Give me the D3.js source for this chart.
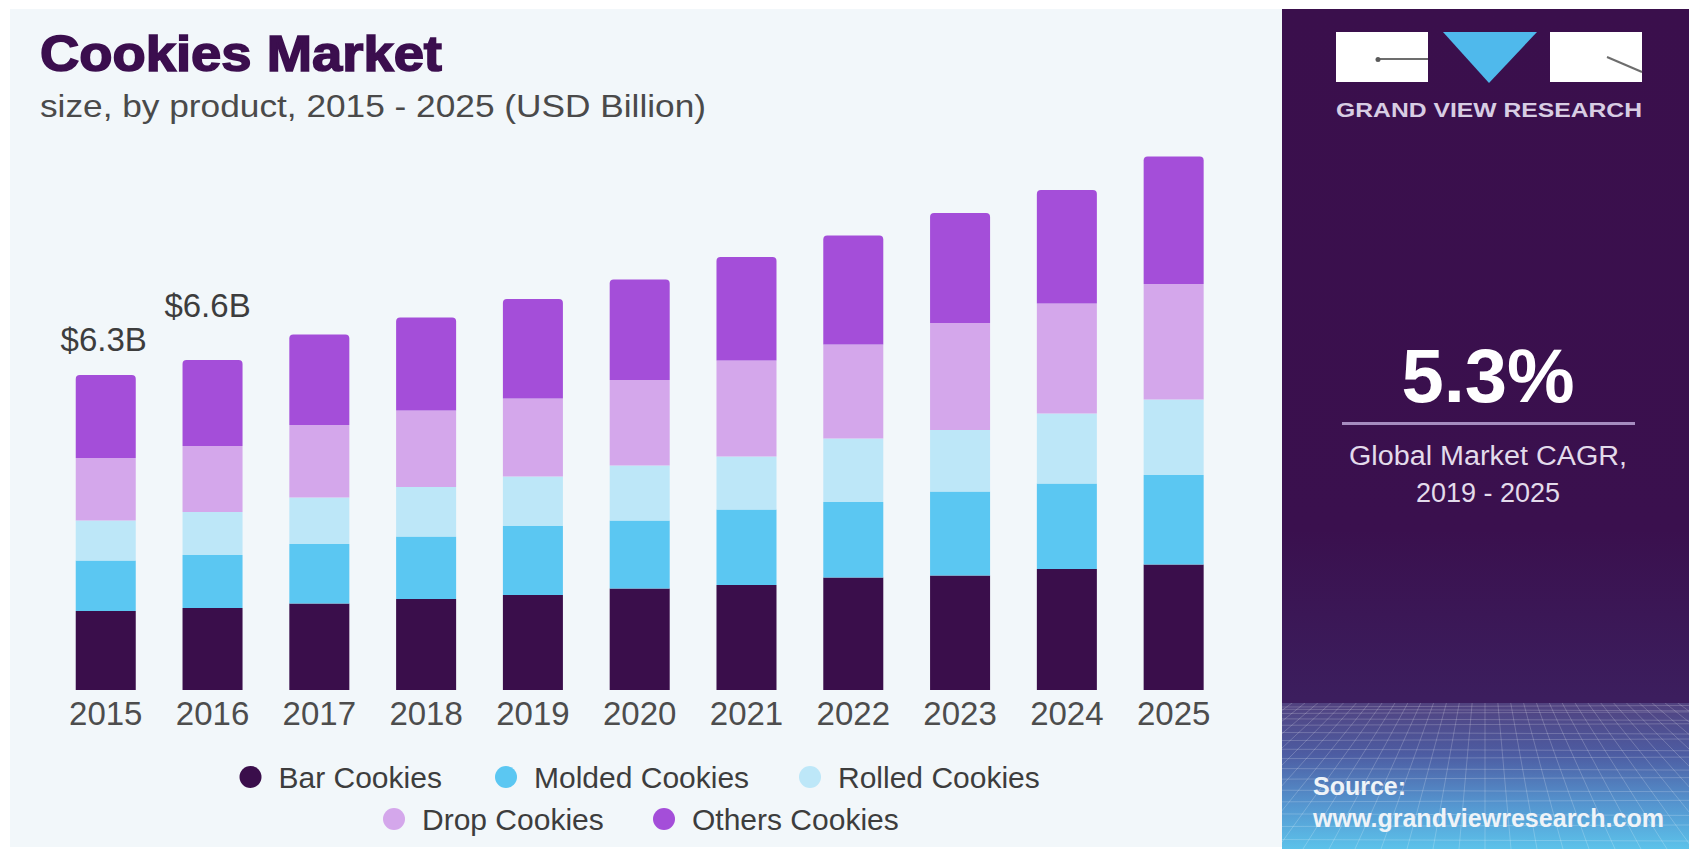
<!DOCTYPE html>
<html>
<head>
<meta charset="utf-8">
<script src="https://cdn.jsdelivr.net/npm/d3@7"></script>
<style>
  html, body { margin: 0; padding: 0; background: #ffffff; }
  svg { display: block; }
  text { font-family: "Liberation Sans", Arial, Helvetica, sans-serif; }
</style>
</head>
<body>
<svg id="chart" width="1693" height="849"></svg>
<script>
// ---- data (USD Billion) ----
const years = ["2015", "2016", "2017", "2018", "2019", "2020", "2021", "2022", "2023", "2024", "2025"];
const barCookies    = [1.58, 1.64, 1.73, 1.82, 1.90, 2.03, 2.10, 2.25, 2.29, 2.42, 2.51];
const moldedCookies = [1.01, 1.06, 1.19, 1.25, 1.38, 1.36, 1.51, 1.51, 1.68, 1.71, 1.79];
const rolledCookies = [0.80, 0.86, 0.93, 0.99, 0.99, 1.10, 1.06, 1.27, 1.23, 1.40, 1.51];
const dropCookies   = [1.25, 1.32, 1.45, 1.53, 1.56, 1.71, 1.92, 1.88, 2.14, 2.20, 2.31];
const othersCookies = [1.66, 1.72, 1.81, 1.86, 1.99, 2.01, 2.07, 2.18, 2.20, 2.27, 2.55];
const seriesNames   = ["Bar Cookies", "Molded Cookies", "Rolled Cookies", "Drop Cookies", "Others Cookies"];
const seriesColors  = ["#3a0e4b", "#5bc7f2", "#bde7f8", "#d4a7eb", "#a44ed9"];
const totalLabels   = [{ year: "2015", text: "$6.3B", value: 6.3 }, { year: "2016", text: "$6.6B", value: 6.6 }];
const cagrText      = "5.3%";

const svg = d3.select("#chart");
const W = 1693, H = 849;

// ---- backgrounds ----
svg.append("rect").attr("x", 0).attr("y", 0).attr("width", W).attr("height", H).attr("fill", "#ffffff");
svg.append("rect").attr("x", 10).attr("y", 9).attr("width", 1272).attr("height", 838).attr("fill", "#f2f7fa");

const defs = svg.append("defs");
const panelGrad = defs.append("linearGradient").attr("id", "panelGrad")
  .attr("x1", 0).attr("y1", 0).attr("x2", 0).attr("y2", 1);
panelGrad.append("stop").attr("offset", "0%").attr("stop-color", "#3a0f4c");
panelGrad.append("stop").attr("offset", "62%").attr("stop-color", "#3a104e");
panelGrad.append("stop").attr("offset", "82%").attr("stop-color", "#3c1e5e");
panelGrad.append("stop").attr("offset", "100%").attr("stop-color", "#3c1e5e");

const gridGrad = defs.append("linearGradient").attr("id", "gridGrad")
  .attr("x1", 0).attr("y1", 0).attr("x2", 0).attr("y2", 1);
gridGrad.append("stop").attr("offset", "0%").attr("stop-color", "#51427f");
gridGrad.append("stop").attr("offset", "35%").attr("stop-color", "#4d5ca2");
gridGrad.append("stop").attr("offset", "70%").attr("stop-color", "#5596d0");
gridGrad.append("stop").attr("offset", "100%").attr("stop-color", "#5cc2ea");

const panelX = 1282, panelR = 1689, panelTop = 9, gridTop = 703;
svg.append("rect").attr("x", panelX).attr("y", panelTop).attr("width", panelR - panelX)
  .attr("height", H - panelTop).attr("fill", "url(#panelGrad)");
svg.append("rect").attr("x", panelX).attr("y", gridTop).attr("width", panelR - panelX)
  .attr("height", H - gridTop).attr("fill", "url(#gridGrad)");

// perspective grid in the panel's lower part
defs.append("clipPath").attr("id", "gridClip").append("rect")
  .attr("x", panelX).attr("y", gridTop).attr("width", panelR - panelX).attr("height", H - gridTop);
const grid = svg.append("g").attr("clip-path", "url(#gridClip)")
  .attr("stroke", "#ffffff").attr("stroke-opacity", 0.2).attr("stroke-width", 1).attr("fill", "none");
const nH = 16;
for (let k = 0; k <= nH; k++) {
  const yy = gridTop + 4 + (H - gridTop) * Math.pow(k / nH, 1.5);
  grid.append("line").attr("x1", panelX).attr("x2", panelR).attr("y1", yy).attr("y2", yy + (k % 2 ? 1.5 : -1.5));
}
const vpX = 1485, vpY = 560;
for (let k = -40; k <= 40; k++) {
  const bx = vpX + k * 26;
  grid.append("line").attr("x1", vpX + (bx - vpX) * 0.25).attr("y1", vpY + (H - vpY) * 0.25)
    .attr("x2", bx).attr("y2", H);
}

// ---- scales ----
const x = d3.scaleBand().domain(years).range([43.7, 1235.7]).paddingInner(0.438).paddingOuter(0.3);
const y = d3.scaleLinear().domain([0, 10]).range([690, 190]);

// ---- stacked bars ----
const rows = years.map((yr, i) => ({
  year: yr,
  "Bar Cookies": barCookies[i],
  "Molded Cookies": moldedCookies[i],
  "Rolled Cookies": rolledCookies[i],
  "Drop Cookies": dropCookies[i],
  "Others Cookies": othersCookies[i]
}));
const stack = d3.stack().keys(seriesNames)(rows);
const color = d3.scaleOrdinal().domain(seriesNames).range(seriesColors);

// top segment keeps rounded upper corners
function segPath(x0, w, yTop, yBot, r) {
  const p = d3.path();
  p.moveTo(x0, yBot);
  p.lineTo(x0, yTop + r);
  p.arcTo(x0, yTop, x0 + r, yTop, r);
  p.lineTo(x0 + w - r, yTop);
  p.arcTo(x0 + w, yTop, x0 + w, yTop + r, r);
  p.lineTo(x0 + w, yBot);
  p.closePath();
  return p.toString();
}

const layers = svg.append("g").selectAll("g").data(stack).join("g")
  .attr("fill", d => color(d.key));
layers.each(function (layer, li) {
  const isTop = li === stack.length - 1;
  d3.select(this).selectAll("path").data(layer).join("path")
    .attr("d", d => segPath(x(d.data.year), x.bandwidth(), y(d[1]), y(d[0]), isTop ? 4 : 0));
});

// ---- x axis ----
const xAxis = svg.append("g").attr("transform", `translate(0,${y(0)})`)
  .call(d3.axisBottom(x).tickSize(0).tickPadding(11.5));
xAxis.select(".domain").remove();
xAxis.selectAll("text")
  .attr("font-family", "'Liberation Sans', Arial, sans-serif")
  .attr("font-size", 33).attr("fill", "#4d4d4d");

// ---- total labels ----
const labelOffsets = { "2015": { dx: -2, dy: -24 }, "2016": { dx: -5, dy: -43 } };
svg.append("g").selectAll("text").data(totalLabels).join("text")
  .attr("x", d => x(d.year) + x.bandwidth() / 2 + labelOffsets[d.year].dx)
  .attr("y", d => y(d.value) + labelOffsets[d.year].dy)
  .attr("text-anchor", "middle").attr("font-size", 33).attr("fill", "#3d3d3d")
  .text(d => d.text);

// ---- title ----
svg.append("text").attr("x", 40).attr("y", 71)
  .attr("font-size", 50).attr("font-weight", "bold").attr("fill", "#3b0e4e")
  .attr("stroke", "#3b0e4e").attr("stroke-width", 1.6)
  .attr("textLength", 402).attr("lengthAdjust", "spacingAndGlyphs")
  .text("Cookies Market");
svg.append("text").attr("x", 40).attr("y", 117)
  .attr("font-size", 32).attr("fill", "#4a4a4a")
  .attr("textLength", 666).attr("lengthAdjust", "spacingAndGlyphs")
  .text("size, by product, 2015 - 2025 (USD Billion)");

// ---- legend ----
const legendItems = [
  { name: seriesNames[0], cx: 250.5, cy: 777 },
  { name: seriesNames[1], cx: 506, cy: 777 },
  { name: seriesNames[2], cx: 810, cy: 777 },
  { name: seriesNames[3], cx: 394, cy: 819 },
  { name: seriesNames[4], cx: 664, cy: 819 }
];
const lg = svg.append("g").selectAll("g").data(legendItems).join("g");
lg.append("circle").attr("cx", d => d.cx).attr("cy", d => d.cy).attr("r", 11)
  .attr("fill", d => color(d.name));
lg.append("text").attr("x", d => d.cx + 28).attr("y", d => d.cy + 11)
  .attr("font-size", 30).attr("fill", "#3d3d3d").text(d => d.name);

// ---- logo ----
const logo = svg.append("g");
logo.append("rect").attr("x", 1336).attr("y", 32).attr("width", 92).attr("height", 50).attr("fill", "#ffffff");
logo.append("rect").attr("x", 1550).attr("y", 32).attr("width", 92).attr("height", 50).attr("fill", "#ffffff");
logo.append("path").attr("d", "M1443,32 L1537,32 L1489,83 Z").attr("fill", "#4fb9ec");
logo.append("line").attr("x1", 1378).attr("y1", 59).attr("x2", 1428).attr("y2", 59)
  .attr("stroke", "#6d6d6d").attr("stroke-width", 2);
logo.append("circle").attr("cx", 1378).attr("cy", 59.5).attr("r", 2.5).attr("fill", "#5a5a5a");
logo.append("line").attr("x1", 1607).attr("y1", 57).attr("x2", 1642).attr("y2", 72)
  .attr("stroke", "#6d6d6d").attr("stroke-width", 2);
svg.append("text").attr("x", 1336).attr("y", 117)
  .attr("font-size", 21).attr("font-weight", "bold").attr("fill", "#d8cde3")
  .attr("textLength", 306).attr("lengthAdjust", "spacingAndGlyphs")
  .text("GRAND VIEW RESEARCH");

// ---- CAGR block ----
const cx = 1488;
svg.append("text").attr("x", cx).attr("y", 402).attr("text-anchor", "middle")
  .attr("font-size", 76).attr("font-weight", "bold").attr("fill", "#ffffff").text(cagrText);
svg.append("line").attr("x1", 1342).attr("x2", 1635).attr("y1", 423.5).attr("y2", 423.5)
  .attr("stroke", "#a68cc0").attr("stroke-width", 3);
svg.append("text").attr("x", cx).attr("y", 465).attr("text-anchor", "middle")
  .attr("font-size", 27).attr("fill", "#e3dbeb")
  .attr("textLength", 278).attr("lengthAdjust", "spacingAndGlyphs")
  .text("Global Market CAGR,");
svg.append("text").attr("x", cx).attr("y", 502).attr("text-anchor", "middle")
  .attr("font-size", 27).attr("fill", "#e3dbeb").text("2019 - 2025");

// ---- source ----
svg.append("text").attr("x", 1313).attr("y", 795)
  .attr("font-size", 25).attr("font-weight", "bold").attr("fill", "#eef3f8").text("Source:");
svg.append("text").attr("x", 1313).attr("y", 827)
  .attr("font-size", 25).attr("font-weight", "bold").attr("fill", "#eef3f8")
  .attr("textLength", 351).attr("lengthAdjust", "spacingAndGlyphs")
  .text("www.grandviewresearch.com");
</script>
</body>
</html>
